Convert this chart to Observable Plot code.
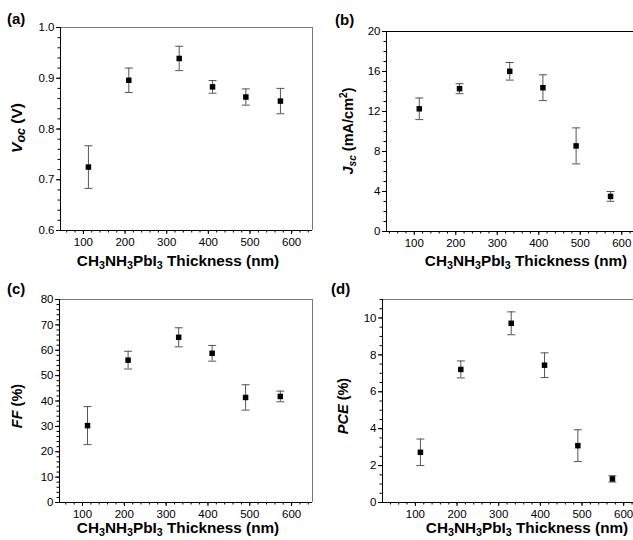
<!DOCTYPE html>
<html><head><meta charset="utf-8">
<script src="https://cdn.jsdelivr.net/npm/d3@7"></script>
<script src="https://cdn.jsdelivr.net/npm/@observablehq/plot@0.6"></script>
<style>
html,body{margin:0;padding:0;background:#fff;}
#wrap{position:relative;width:633px;height:540px;overflow:hidden;font-family:"Liberation Sans",Arial,sans-serif;}
.panel{position:absolute;}
</style></head><body><div id="wrap"></div>
<script>
// ---- data ----
const thickness = [112, 209, 330, 410, 490, 573];
const voc = [0.725, 0.896, 0.939, 0.883, 0.863, 0.855];
const vocErr = [0.042, 0.024, 0.024, 0.0125, 0.016, 0.025];
const jsc = [12.27, 14.28, 16.02, 14.38, 8.56, 3.51];
const jscErr = [1.08, 0.5, 0.88, 1.29, 1.8, 0.49];
const ff = [30.3, 56.1, 65.1, 58.8, 41.4, 41.8];
const ffErr = [7.5, 3.5, 3.75, 3.1, 5.0, 2.1];
const pce = [2.72, 7.21, 9.71, 7.44, 3.08, 1.28];
const pceErr = [0.72, 0.46, 0.62, 0.67, 0.86, 0.17];

const xTicks = [100, 200, 300, 400, 500, 600];
const vocTicks = [0.6, 0.7, 0.8, 0.9, 1.0];
const jscTicks = [0, 4, 8, 12, 16, 20];
const ffTicks = [0, 10, 20, 30, 40, 50, 60, 70, 80];
const pceTicks = [0, 2, 4, 6, 8, 10];
const panelLabels = ["(a)", "(b)", "(c)", "(d)"];
const xTitleParts = [{t:"CH"},{t:"3",sub:true},{t:"NH"},{t:"3",sub:true},{t:"PbI"},{t:"3",sub:true},{t:" Thickness (nm)"}];

const FONT = '"Liberation Sans", Arial, sans-serif';

function range(a, b, step) {
  const out = [];
  const n = Math.round((b - a) / step);
  for (let i = 0; i <= n; i++) out.push(+(a + i * step).toFixed(6));
  return out;
}

const cap = {draw(ctx) { ctx.moveTo(-4, 0); ctx.lineTo(4, 0); }};

function addText(svg, {x, y, rotate, anchor = "middle", size, subScale = 0.7, parts}) {
  const t = d3.select(svg).append("text")
    .attr("transform", `translate(${x},${y})` + (rotate ? " rotate(-90)" : ""))
    .attr("text-anchor", anchor)
    .attr("font-weight", "bold")
    .attr("font-size", size)
    .attr("font-family", FONT)
    .attr("fill", "#000");
  let shift = 0;
  for (const p of parts) {
    const ts = t.append("tspan").text(p.t);
    if (p.italic) ts.attr("font-style", "italic");
    let target = 0;
    if (p.sub) { ts.attr("font-size", size * subScale); target = size * 0.22; }
    if (p.sup) { ts.attr("font-size", size * subScale); target = -size * 0.42; }
    if (target - shift !== 0) ts.attr("dy", target - shift);
    shift = target;
  }
}

function panel(cfg) {
  const data = thickness.map((x, i) => ({x, y: cfg.vals[i], lo: cfg.vals[i] - cfg.errs[i], hi: cfg.vals[i] + cfg.errs[i]}));
  const xMinor = range(40, 640, 20).filter(v => v > cfg.xDom[0] && v < cfg.xDom[1]);
  const yMinor = range(cfg.yDom[0], cfg.yDom[1], cfg.yMinorStep);
  const svg = Plot.plot({
    width: cfg.width, height: cfg.height,
    marginLeft: cfg.mL, marginRight: cfg.mR, marginTop: cfg.mT, marginBottom: cfg.mB,
    x: {domain: cfg.xDom},
    y: {domain: cfg.yDom},
    style: {background: "transparent", maxWidth: "none", fontFamily: FONT, fontSize: "11.5px", color: "#000", overflow: "visible"},
    marks: [
      Plot.axisX(xMinor, {tickSize: 2.5, tickFormat: () => "", label: null, stroke: "#000"}),
      Plot.axisX(xTicks, {tickSize: 4, tickPadding: 3, label: null, tickFormat: d => String(d), fontSize: 11.5, stroke: "#000"}),
      Plot.axisY(yMinor, {tickSize: 2.5, tickFormat: () => "", label: null, stroke: "#000"}),
      Plot.axisY(cfg.yTicks, {tickSize: 4, tickPadding: 2, label: null, tickFormat: cfg.fmt, fontSize: 11.5, stroke: "#000"}),
      Plot.ruleX([cfg.xDom[1]], {stroke: cfg.sideColor, strokeWidth: 1}),
      Plot.ruleY([cfg.yDom[1]], {stroke: cfg.topColor, strokeWidth: 1}),
      Plot.ruleX([cfg.xDom[0]], {stroke: "#000", strokeWidth: 1}),
      Plot.ruleY([cfg.yDom[0]], {stroke: "#000", strokeWidth: 1}),
      Plot.ruleX(data, {x: "x", y1: "lo", y2: "hi", stroke: "#555", strokeWidth: 1}),
      Plot.dot(data, {x: "x", y: "lo", symbol: cap, fill: "none", stroke: "#555", strokeWidth: 1}),
      Plot.dot(data, {x: "x", y: "hi", symbol: cap, fill: "none", stroke: "#555", strokeWidth: 1}),
      Plot.dot(data, {x: "x", y: "y", symbol: "square", r: 3.1, fill: "#000", stroke: null})
    ]
  });
  addText(svg, {x: cfg.label[0], y: cfg.label[1], anchor: "start", size: 15, parts: [{t: cfg.labelText}]});
  addText(svg, {x: cfg.yTitlePos[0], y: cfg.yTitlePos[1], rotate: true, size: cfg.yTitleSize || 14.5, subScale: cfg.ySubScale || 0.7, parts: cfg.yTitle});
  addText(svg, {x: cfg.xTitlePos[0], y: cfg.xTitlePos[1], size: 15.3, parts: xTitleParts});
  const div = document.createElement("div");
  div.className = "panel";
  div.style.left = cfg.left + "px";
  div.style.top = cfg.top + "px";
  div.appendChild(svg);
  document.getElementById("wrap").appendChild(div);
}

const f1 = d3.format(".1f");
const f0 = d => String(d);

panel({left: 0, top: 0, width: 320, height: 270, mL: 60, mR: 8, mT: 27, mB: 40,
  xDom: [45, 650], yDom: [0.6, 1.0], yTicks: vocTicks, yMinorStep: 0.02, fmt: f1,
  vals: voc, errs: vocErr, topColor: "#777", sideColor: "#777",
  label: [7, 24], labelText: panelLabels[0],
  yTitle: [{t: "V", italic: true}, {t: "oc", italic: true, sub: true}, {t: " (V)"}], yTitlePos: [22, 128],
  yTitleSize: 15.5, ySubScale: 0.8,
  xTitlePos: [178, 266]});

panel({left: 313, top: 0, width: 339, height: 270, mL: 73, mR: 10, mT: 31, mB: 39,
  xDom: [33, 650], yDom: [0, 20], yTicks: jscTicks, yMinorStep: 1, fmt: f0,
  vals: jsc, errs: jscErr, topColor: "#000", sideColor: "#000",
  label: [22, 25], labelText: panelLabels[1],
  yTitle: [{t: "J", italic: true}, {t: "sc", italic: true, sub: true}, {t: " (mA/cm"}, {t: "2", sup: true}, {t: ")"}], yTitlePos: [40, 131],
  xTitlePos: [213, 266]});

panel({left: 0, top: 270, width: 320, height: 270, mL: 59, mR: 8, mT: 29, mB: 38,
  xDom: [45, 650], yDom: [0, 80], yTicks: ffTicks, yMinorStep: 2, fmt: f0,
  vals: ff, errs: ffErr, topColor: "#777", sideColor: "#777",
  label: [7, 24], labelText: panelLabels[2],
  yTitle: [{t: "FF", italic: true}, {t: " (%)"}], yTitlePos: [22, 136],
  xTitlePos: [178, 263]});

panel({left: 313, top: 270, width: 341, height: 270, mL: 69, mR: 10, mT: 29, mB: 38,
  xDom: [21, 650], yDom: [0, 11], yTicks: pceTicks, yMinorStep: 0.5, fmt: f0,
  vals: pce, errs: pceErr, topColor: "#777", sideColor: "#777",
  label: [18, 24], labelText: panelLabels[3],
  yTitle: [{t: "PCE", italic: true}, {t: " (%)"}], yTitlePos: [35, 136],
  xTitlePos: [214, 263]});
</script>
</body></html>
